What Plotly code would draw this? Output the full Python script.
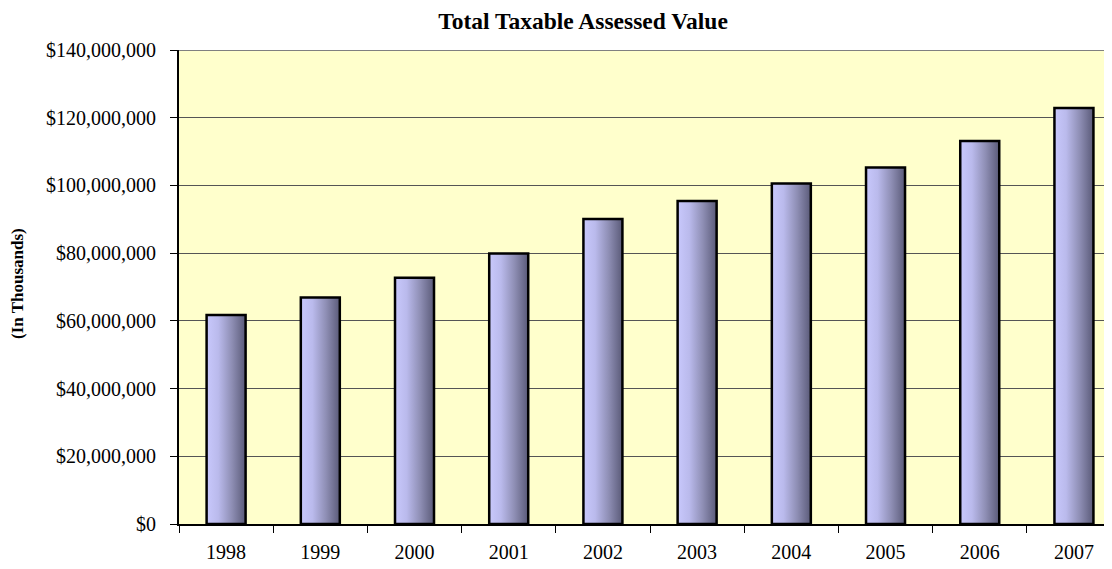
import plotly.graph_objects as go

years = ["1998", "1999", "2000", "2001", "2002", "2003", "2004", "2005", "2006", "2007"]
values = [61700000, 66900000, 72700000, 79900000, 90100000, 95400000,
          100600000, 105300000, 113100000, 122900000]
y_ticks = [0, 20000000, 40000000, 60000000, 80000000, 100000000, 120000000, 140000000]
y_tick_text = ["$" + format(v, ",") for v in y_ticks]

bar_w = 0.414
fig = go.Figure()
for i, v in enumerate(values):
    x0, x1 = i - bar_w / 2, i + bar_w / 2
    fig.add_trace(go.Scatter(
        x=[x0, x0, x1, x1, x0], y=[0, v, v, 0, 0],
        mode="lines", fill="toself",
        fillgradient=dict(type="horizontal",
                          colorscale=[[0, "#c8c8fc"], [0.3, "#babaec"], [0.65, "#8e8eb4"], [1, "#5a5a78"]]),
        line=dict(color="black", width=2.5),
        showlegend=False, hoverinfo="skip", name=years[i]))

# page has an 8px body margin; figure sized to fill the rest of the window
fig.update_layout(
    width=1104, height=561,
    margin=dict(l=171, r=0, t=42, b=45),
    paper_bgcolor="white", plot_bgcolor="#ffffcc",
    font=dict(family="Liberation Serif, Times New Roman, serif", size=20, color="black"),
    title=dict(text="<b>Total Taxable Assessed Value</b>", x=575 / 1104, xref="container",
               xanchor="center", y=1 - 13 / 561, yref="container", yanchor="middle",
               font=dict(size=23.5)),
    xaxis=dict(range=[-0.5, 9.404], tickmode="array", tickvals=list(range(len(years))),
               ticktext=years, ticks="", showgrid=False, zeroline=False,
               showline=True, linecolor="black", linewidth=1.5,
               ticklabelstandoff=9,
               minor=dict(tickvals=[i + 0.5 for i in range(-1, len(years))], ticks="outside",
                          ticklen=7, tickcolor="black", tickwidth=1, showgrid=False),
               fixedrange=True),
    yaxis=dict(range=[0, 140000000], tickmode="array", tickvals=y_ticks, ticktext=y_tick_text,
               ticks="outside", ticklen=7, tickcolor="black",
               showgrid=True, gridcolor="#555555", gridwidth=1, zeroline=False,
               showline=True, linecolor="black", linewidth=2,
               ticklabelstandoff=10),
)
fig.add_annotation(text="<b>(In Thousands)</b>", xref="paper", yref="paper", x=0, y=0.5,
                   xshift=-162, yshift=3, textangle=-90, showarrow=False,
                   xanchor="center", yanchor="middle", font=dict(size=17))
# top border line of the plot area
fig.add_shape(type="line", xref="paper", yref="y", x0=0, x1=1, y0=140000000, y1=140000000,
              line=dict(color="#808080", width=2))
fig.write_html("out.html")
